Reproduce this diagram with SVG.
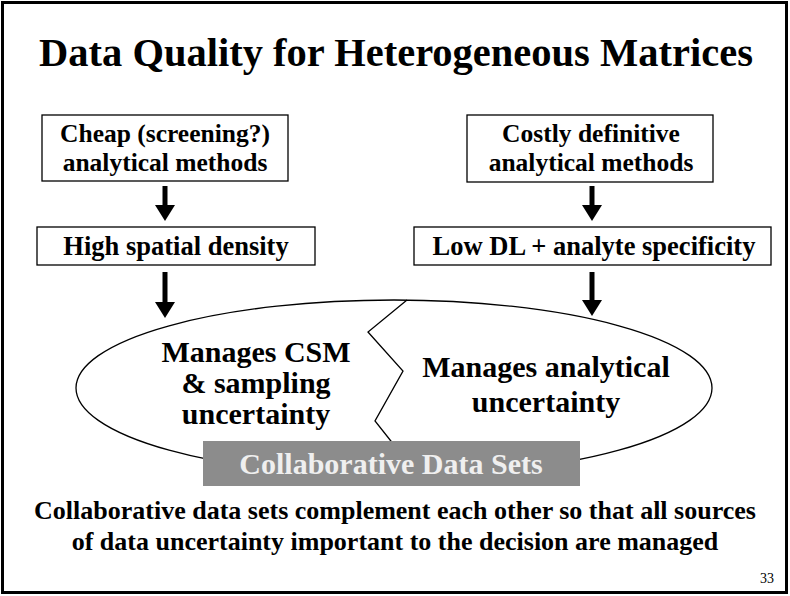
<svg xmlns="http://www.w3.org/2000/svg" width="790" height="596" viewBox="0 0 790 596">
  <style>
    .t { font-family: "Liberation Serif", "Times New Roman", serif; font-weight: bold; fill: #000; text-anchor: middle; }
    .box { fill: #fff; stroke: #000; stroke-width: 1.3; }
    .conn { stroke: #000; stroke-width: 5; fill: none; }
    .thin { stroke: #000; stroke-width: 1.3; fill: none; }
  </style>
  <defs>
    <marker id="ah" markerUnits="userSpaceOnUse" viewBox="0 -10 16 20" refX="0" refY="0" markerWidth="16" markerHeight="20" orient="auto">
      <path d="M0,-10 L16,0 L0,10 z" fill="#000"/>
    </marker>
  </defs>

  <rect x="0" y="0" width="790" height="596" fill="#fff"/>
  <rect x="2.5" y="2.5" width="784" height="590" fill="none" stroke="#000" stroke-width="3"/>

  <text class="t" x="396" y="66" font-size="40.5">Data Quality for Heterogeneous Matrices</text>

  <!-- central ellipse with divider -->
  <g id="ellipse">
    <ellipse cx="394" cy="388" rx="318" ry="88" class="thin" fill="#fff"/>
    <path class="thin" d="M407,300 L368,332 L403,371 L375,421 L398,450"/>
    <text class="t" x="256" y="362" font-size="30">Manages CSM</text>
    <text class="t" x="256" y="393" font-size="30">&amp; sampling</text>
    <text class="t" x="256" y="424" font-size="30">uncertainty</text>
    <text class="t" x="546" y="377" font-size="30">Manages analytical</text>
    <text class="t" x="546" y="412" font-size="30">uncertainty</text>
  </g>

  <g id="cheap">
    <rect class="box" x="42" y="115" width="246" height="66"/>
    <text class="t" x="165" y="142" font-size="25.5">Cheap (screening?)</text>
    <text class="t" x="165" y="171" font-size="25.5">analytical methods</text>
  </g>
  <g id="density">
    <rect class="box" x="37" y="227" width="278" height="38"/>
    <text class="t" x="176" y="255" font-size="26.5">High spatial density</text>
  </g>
  <g id="costly">
    <rect class="box" x="467" y="115" width="246" height="67"/>
    <text class="t" x="591" y="142" font-size="25.5">Costly definitive</text>
    <text class="t" x="591" y="171" font-size="25.5">analytical methods</text>
  </g>
  <g id="lowdl">
    <rect class="box" x="414" y="227" width="357" height="38"/>
    <text class="t" x="594" y="255" font-size="26.5">Low DL + analyte specificity</text>
  </g>

  <g id="collab">
    <rect x="203" y="441" width="377" height="45" fill="#8c8c8c"/>
    <text x="391" y="474" font-size="30" class="t" style="fill:#efefef">Collaborative Data Sets</text>
  </g>

  <g id="connectors">
    <line class="conn" x1="165" y1="186" x2="165" y2="205" marker-end="url(#ah)"/>
    <line class="conn" x1="165" y1="272" x2="165" y2="302" marker-end="url(#ah)"/>
    <line class="conn" x1="592" y1="186" x2="592" y2="205" marker-end="url(#ah)"/>
    <line class="conn" x1="592" y1="272" x2="592" y2="300" marker-end="url(#ah)"/>
  </g>

  <text class="t" x="395" y="519" font-size="26">Collaborative data sets complement each other so that all sources</text>
  <text class="t" x="395" y="550" font-size="26">of data uncertainty important to the decision are managed</text>
  <text x="760" y="583" font-size="14" font-family="Liberation Serif, serif" fill="#000">33</text>
</svg>
